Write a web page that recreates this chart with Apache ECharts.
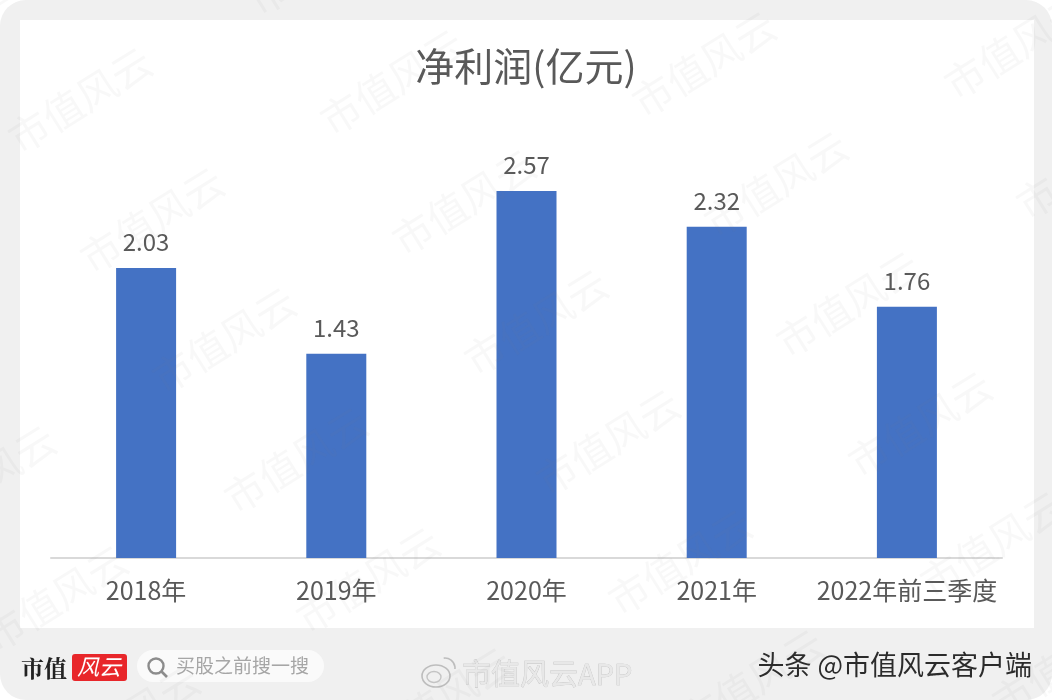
<!DOCTYPE html>
<html>
<head>
<meta charset="utf-8">
<style>
  html, body { margin: 0; padding: 0; background: #fff; }
  #chart { width: 1052px; height: 700px; }
</style>
<script src="https://cdn.jsdelivr.net/npm/echarts@6/dist/echarts.min.js"></script>
</head>
<body>
<div id="chart"></div>
<script>
const categories = ['2018年', '2019年', '2020年', '2021年', '2022年前三季度'];
const profit = [2.03, 1.43, 2.57, 2.32, 1.76];
const chartTitle = '净利润(亿元)';
const markText = '市值风云';

const cjk = '"Noto Sans CJK SC", "Noto Sans", sans-serif';

// 水印:按斜向网格铺满
function watermarks() {
  const list = [];
  for (let i = -2; i < 5; i++) {
    for (let j = -1; j < 7; j++) {
      list.push({
        type: 'text',
        x: 80 + i * 312 + j * 72,
        y: 100 - i * 18 + j * 120,
        rotation: 32 * Math.PI / 180,
        z: 50,
        silent: true,
        style: {
          text: markText,
          font: '40px ' + cjk,
          fill: 'rgba(120,120,120,0.055)',
          align: 'center',
          verticalAlign: 'middle',
          letterSpacing: 9
        }
      });
    }
  }
  return list;
}

// 底部一栏
function footer() {
  return [
    { type: 'text', x: 21, y: 668, z: 10, style: { text: '市值', font: 'bold 23px "Noto Serif CJK SC", "Noto Sans CJK SC", serif', fill: '#222', verticalAlign: 'middle' } },
    { type: 'rect', z: 10, shape: { x: 72, y: 654, width: 55, height: 27, r: 3 }, style: { fill: '#e8262a' } },
    { type: 'text', x: 99, y: 667, z: 11, style: { text: '风云', font: 'italic 22px ' + cjk, fill: '#fff', align: 'center', verticalAlign: 'middle' } },
    { type: 'rect', z: 10, shape: { x: 137, y: 650, width: 187, height: 32, r: 16 }, style: { fill: '#fafafa' } },
    { type: 'circle', z: 11, shape: { cx: 156, cy: 666, r: 7.5 }, style: { fill: 'none', stroke: '#8c8c8c', lineWidth: 2.4 } },
    { type: 'line', z: 11, shape: { x1: 161.5, y1: 671.5, x2: 167, y2: 677 }, style: { stroke: '#8c8c8c', lineWidth: 2.6 } },
    { type: 'text', x: 176, y: 666, z: 11, style: { text: '买股之前搜一搜', font: '19px ' + cjk, fill: '#a6a6a6', verticalAlign: 'middle' } },
    { type: 'ellipse', z: 10, shape: { cx: 436, cy: 676, rx: 14, ry: 11 }, style: { fill: 'none', stroke: '#bdbdbd', lineWidth: 1.6 } },
    { type: 'ellipse', z: 10, shape: { cx: 434, cy: 677, rx: 7, ry: 5.5 }, style: { fill: 'none', stroke: '#c4c4c4', lineWidth: 1.4 } },
    { type: 'arc', z: 10, shape: { cx: 445, cy: 668, r: 10, startAngle: -1.7, endAngle: 0.1 }, style: { fill: 'none', stroke: '#bdbdbd', lineWidth: 1.6 } },
    { type: 'text', x: 462, y: 674, z: 10, style: { text: '市值风云APP', font: '29px ' + cjk, fill: '#e8e8e8', stroke: '#bdbdbd', lineWidth: 0.6, verticalAlign: 'middle' } },
    { type: 'text', x: 1032, y: 665, z: 10, style: { text: '头条 @市值风云客户端', font: '27px ' + cjk, fill: '#2b2b2b', align: 'right', verticalAlign: 'middle' } }
  ];
}

const chart = echarts.init(document.getElementById('chart'));
chart.setOption({
  animation: false,
  backgroundColor: '#fff',
  title: {
    text: chartTitle,
    left: 'center',
    top: 42,
    textStyle: { color: '#595959', fontSize: 39, fontWeight: 'normal', fontFamily: cjk }
  },
  grid: { left: 51, right: 50, top: 129.6, height: 428.4 },
  xAxis: {
    type: 'category',
    data: categories,
    axisTick: { show: false },
    axisLine: { lineStyle: { color: '#d9d9d9', width: 2 } },
    axisLabel: { color: '#595959', fontSize: 25, fontFamily: cjk, margin: 20, interval: 0 }
  },
  yAxis: { type: 'value', min: 0, max: 3, show: false },
  series: [{
    type: 'bar',
    data: profit,
    barWidth: 60,
    itemStyle: { color: '#4472c4' },
    label: { show: true, position: 'top', distance: 14, color: '#595959', fontSize: 24, fontFamily: cjk, formatter: p => p.value.toFixed(2) }
  }],
  graphic: [
    { type: 'rect', z: -10, shape: { x: 0, y: 0, width: 1052, height: 700, r: 26 }, style: { fill: '#f0f0f0' } },
    { type: 'rect', z: -9, shape: { x: 20, y: 20, width: 1014, height: 608 }, style: { fill: '#fff' } }
  ].concat(footer(), watermarks())
});
</script>
</body>
</html>
